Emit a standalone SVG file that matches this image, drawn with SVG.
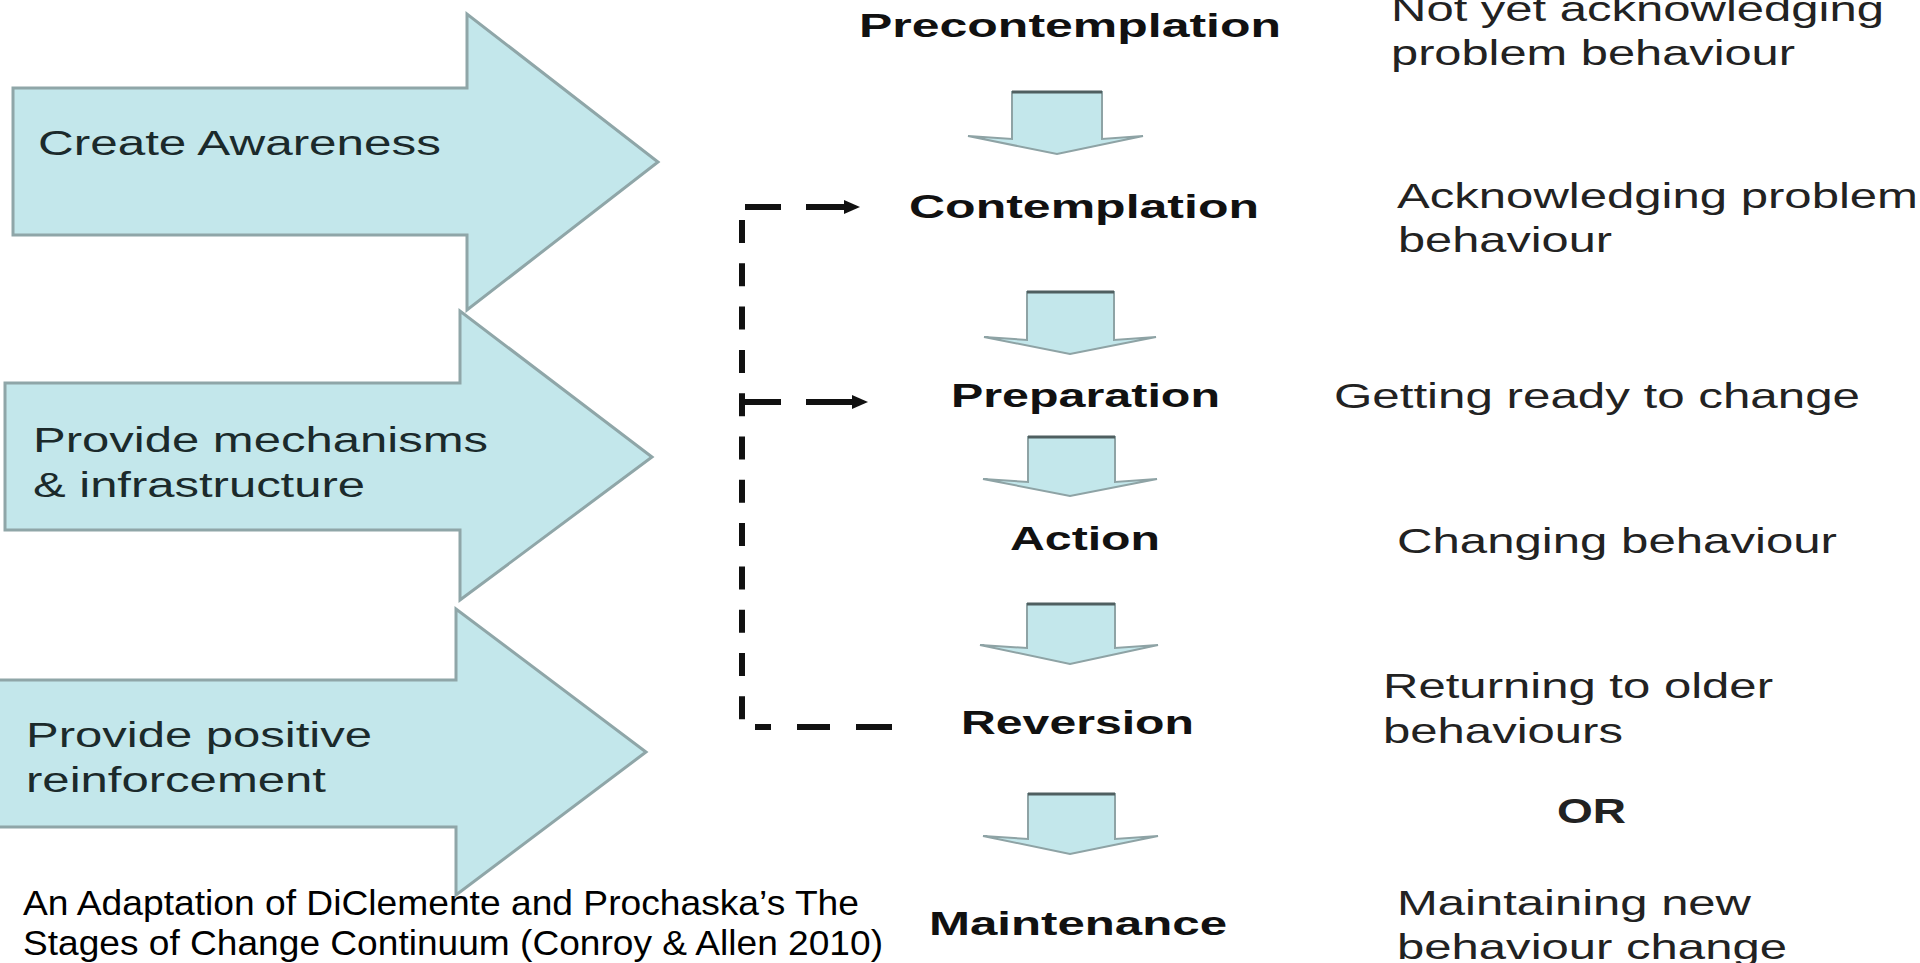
<svg xmlns="http://www.w3.org/2000/svg" width="1920" height="963" viewBox="0 0 1920 963">
<defs>
<style>
.big{fill:#c3e7eb;stroke:#8fa6a8;stroke-width:3;stroke-linejoin:miter}
.down{fill:#c3e7eb;stroke:#8ea3a5;stroke-width:2;stroke-linejoin:miter}
.downtop{stroke:#4f5f60;stroke-width:3}
.lt{font-family:"Liberation Sans",Arial,sans-serif;font-size:35px;fill:#1b2a2b}
.st{font-family:"Liberation Sans",Arial,sans-serif;font-size:33px;font-weight:bold;fill:#111}
.rt{font-family:"Liberation Sans",Arial,sans-serif;font-size:35px;fill:#222}
.cap{font-family:"Liberation Sans",Arial,sans-serif;font-size:35px;fill:#000}
.dash{fill:none;stroke:#111;stroke-width:6}
</style>
<marker id="ah" markerUnits="userSpaceOnUse" markerWidth="18" markerHeight="14" refX="4" refY="7" orient="auto"><path d="M0,0 L16,7 L0,14 z" fill="#111"/></marker>
</defs>
<rect width="1920" height="963" fill="#fff"/>

<g id="arrow-awareness">
<path class="big" d="M13 88 H467 V14 L658 162 L467 310 V235 H13 Z"/>
<text class="lt" x="38" y="155" textLength="403" lengthAdjust="spacingAndGlyphs">Create Awareness</text>
</g>
<g id="arrow-mechanisms">
<path class="big" d="M5 383 H460 V311 L652 457 L460 600 V530 H5 Z"/>
<text class="lt" x="33" y="452" textLength="455" lengthAdjust="spacingAndGlyphs">Provide mechanisms</text>
<text class="lt" x="33" y="497" textLength="332" lengthAdjust="spacingAndGlyphs">&amp; infrastructure</text>
</g>
<g id="arrow-reinforcement">
<path class="big" d="M-3 680 H456 V609 L646 752 L456 895 V827 H-3 Z"/>
<text class="lt" x="26" y="747" textLength="346" lengthAdjust="spacingAndGlyphs">Provide positive</text>
<text class="lt" x="26" y="792" textLength="300" lengthAdjust="spacingAndGlyphs">reinforcement</text>
</g>

<g id="connectors">
<path class="dash" d="M742 220 V727" stroke-dasharray="23 20.3"/>
<path class="dash" d="M755 727 H771 M797 727 H830 M856 727 H892"/>
<path class="dash" d="M745 207 H781 M806 207 H848" marker-end="url(#ah)"/>
<path class="dash" d="M745 402 H781 M806 402 H856" marker-end="url(#ah)"/>
</g>

<g id="down-arrows">
<g id="down1"><path class="down" d="M1012 92 H1102 V139 L1143 136 L1057 154 L968 136 L1012 139 Z"/><line class="downtop" x1="1012" y1="92" x2="1102" y2="92"/></g>
<g id="down2"><path class="down" d="M1027 292 H1114 V340 L1156 337 L1070 354 L984 337 L1027 340 Z"/><line class="downtop" x1="1027" y1="292" x2="1114" y2="292"/></g>
<g id="down3"><path class="down" d="M1028 437 H1115 V482 L1157 479 L1070 496 L983 479 L1028 482 Z"/><line class="downtop" x1="1028" y1="437" x2="1115" y2="437"/></g>
<g id="down4"><path class="down" d="M1027 604 H1115 V648 L1158 645 L1070 664 L980 645 L1027 648 Z"/><line class="downtop" x1="1027" y1="604" x2="1115" y2="604"/></g>
<g id="down5"><path class="down" d="M1028 794 H1115 V839 L1158 836 L1070 854 L983 836 L1028 839 Z"/><line class="downtop" x1="1028" y1="794" x2="1115" y2="794"/></g>
</g>

<g id="stage-precontemplation"><text class="st" x="859" y="37" textLength="422" lengthAdjust="spacingAndGlyphs">Precontemplation</text></g>
<g id="stage-contemplation"><text class="st" x="909" y="218" textLength="350" lengthAdjust="spacingAndGlyphs">Contemplation</text></g>
<g id="stage-preparation"><text class="st" x="951" y="407" textLength="269" lengthAdjust="spacingAndGlyphs">Preparation</text></g>
<g id="stage-action"><text class="st" x="1010" y="550" textLength="150" lengthAdjust="spacingAndGlyphs">Action</text></g>
<g id="stage-reversion"><text class="st" x="961" y="734" textLength="233" lengthAdjust="spacingAndGlyphs">Reversion</text></g>
<g id="stage-maintenance"><text class="st" x="929" y="935" textLength="298" lengthAdjust="spacingAndGlyphs">Maintenance</text></g>

<g id="desc-precontemplation">
<text class="rt" x="1391" y="21" textLength="493" lengthAdjust="spacingAndGlyphs">Not yet acknowledging</text>
<text class="rt" x="1391" y="65" textLength="404" lengthAdjust="spacingAndGlyphs">problem behaviour</text>
</g>
<g id="desc-contemplation">
<text class="rt" x="1397" y="208" textLength="521" lengthAdjust="spacingAndGlyphs">Acknowledging problem</text>
<text class="rt" x="1398" y="252" textLength="214" lengthAdjust="spacingAndGlyphs">behaviour</text>
</g>
<g id="desc-preparation">
<text class="rt" x="1334" y="408" textLength="526" lengthAdjust="spacingAndGlyphs">Getting ready to change</text>
</g>
<g id="desc-action">
<text class="rt" x="1397" y="553" textLength="440" lengthAdjust="spacingAndGlyphs">Changing behaviour</text>
</g>
<g id="desc-reversion">
<text class="rt" x="1383" y="698" textLength="390" lengthAdjust="spacingAndGlyphs">Returning to older</text>
<text class="rt" x="1383" y="743" textLength="240" lengthAdjust="spacingAndGlyphs">behaviours</text>
</g>
<g id="desc-or">
<text class="rt" x="1557" y="823" font-weight="bold" textLength="69" lengthAdjust="spacingAndGlyphs">OR</text>
</g>
<g id="desc-maintenance">
<text class="rt" x="1397" y="915" textLength="354" lengthAdjust="spacingAndGlyphs">Maintaining new</text>
<text class="rt" x="1397" y="959" textLength="390" lengthAdjust="spacingAndGlyphs">behaviour change</text>
</g>

<g id="caption">
<text class="cap" x="23" y="915" textLength="836" lengthAdjust="spacingAndGlyphs">An Adaptation of DiClemente and Prochaska’s The</text>
<text class="cap" x="23" y="955" textLength="860" lengthAdjust="spacingAndGlyphs">Stages of Change Continuum (Conroy &amp; Allen 2010)</text>
</g>
</svg>
